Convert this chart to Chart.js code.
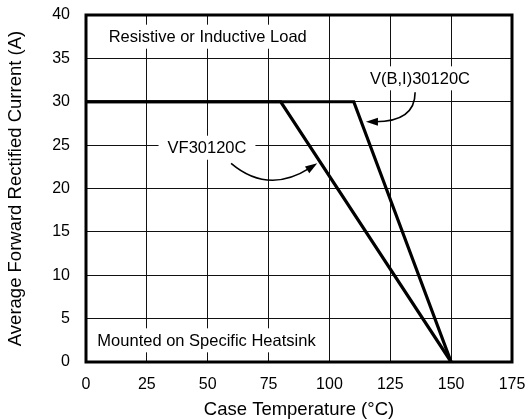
<!DOCTYPE html>
<html>
<head>
<meta charset="utf-8">
<script src="https://cdn.jsdelivr.net/npm/chart.js@4"></script>
<style>
  body { margin: 0; background: #fff; }
  #wrap { width: 527px; height: 419px; }
</style>
</head>
<body>
<div id="wrap"><canvas id="derating"></canvas></div>
<script>
// derating curves, case temperature (°C) vs current (A)
const tempVF = [0, 80, 150];
const currentVF = [30, 30, 0];
const tempVBI = [0, 110, 150];
const currentVBI = [30, 30, 0];
const seriesNames = ['VF30120C', 'V(B,I)30120C'];
const xTicks = [0, 25, 50, 75, 100, 125, 150, 175];
const yTicks = [0, 5, 10, 15, 20, 25, 30, 35, 40];
const noteTop = 'Resistive or Inductive Load';
const noteBottom = 'Mounted on Specific Heatsink';

const FONT = "'Liberation Sans', Arial, Helvetica, sans-serif";

// label boxes and arrows, placed in data units
const notes = [
  { text: noteTop, x: 50, y: 37.5 },
  { text: noteBottom, x: 49.5, y: 2.5 },
  { text: seriesNames[0], x: 49.7, y: 24.7 },
  { text: seriesNames[1], x: 137.2, y: 32.7 }
];
const arrows = [
  { from: [59.6, 22.9], ctrl: [74.8, 19.3], to: [95, 22.9] },
  { from: [135.2, 31.1], ctrl: [135.2, 27.7], to: [115, 27.7] }
];

const annotate = {
  id: 'annotate',
  beforeDatasetsDraw(chart) {
    const { ctx, scales: { x, y } } = chart;
    ctx.save();
    ctx.font = '16.5px ' + FONT;
    ctx.textAlign = 'center';
    ctx.textBaseline = 'middle';
    notes.forEach(n => {
      const px = x.getPixelForValue(n.x);
      const py = y.getPixelForValue(n.y);
      const w = ctx.measureText(n.text).width + 18;
      ctx.fillStyle = '#fff';
      ctx.fillRect(px - w / 2, py - 12, w, 24);
      ctx.fillStyle = '#000';
      ctx.fillText(n.text, px, py + 1);
    });
    ctx.restore();
  },
  afterDatasetsDraw(chart) {
    const { ctx, chartArea: a, scales: { x, y } } = chart;
    ctx.save();
    ctx.strokeStyle = '#000';
    ctx.fillStyle = '#000';
    ctx.lineWidth = 1.6;
    arrows.forEach(ar => {
      const sx = x.getPixelForValue(ar.from[0]), sy = y.getPixelForValue(ar.from[1]);
      const cx = x.getPixelForValue(ar.ctrl[0]), cy = y.getPixelForValue(ar.ctrl[1]);
      const ex = x.getPixelForValue(ar.to[0]), ey = y.getPixelForValue(ar.to[1]);
      const ang = Math.atan2(ey - cy, ex - cx);
      const bx = ex - 9 * Math.cos(ang), by = ey - 9 * Math.sin(ang);
      ctx.beginPath();
      ctx.moveTo(sx, sy);
      ctx.quadraticCurveTo(cx, cy, bx, by);
      ctx.stroke();
      ctx.beginPath();
      ctx.moveTo(ex, ey);
      ctx.lineTo(ex - 12 * Math.cos(ang) + 4 * Math.sin(ang), ey - 12 * Math.sin(ang) - 4 * Math.cos(ang));
      ctx.lineTo(ex - 12 * Math.cos(ang) - 4 * Math.sin(ang), ey - 12 * Math.sin(ang) + 4 * Math.cos(ang));
      ctx.closePath();
      ctx.fill();
    });
    // heavy frame round the plot
    ctx.lineWidth = 3;
    ctx.strokeRect(a.left, a.top, a.right - a.left, a.bottom - a.top);
    ctx.restore();
  }
};

const ctx = document.getElementById('derating').getContext('2d');

const myChart = new Chart(ctx, {
  type: 'scatter',
  data: {
    datasets: [
      {
        label: seriesNames[0],
        data: tempVF.map((t, i) => ({ x: t, y: currentVF[i] })),
        showLine: true,
        borderColor: '#000',
        borderWidth: 3.2,
        pointRadius: 0
      },
      {
        label: seriesNames[1],
        data: tempVBI.map((t, i) => ({ x: t, y: currentVBI[i] })),
        showLine: true,
        borderColor: '#000',
        borderWidth: 3.2,
        pointRadius: 0
      }
    ]
  },
  options: {
    responsive: true,
    maintainAspectRatio: false,
    animation: false,
    layout: { padding: { left: 0, top: 15, right: 15, bottom: 0 } },
    plugins: {
      legend: { display: false },
      tooltip: { enabled: false }
    },
    scales: {
      x: {
        type: 'linear',
        min: 0,
        max: 175,
        afterBuildTicks: s => { s.ticks = xTicks.map(v => ({ value: v })); },
        afterFit: s => { s.height = 57; s.paddingLeft = 0; s.paddingRight = 0; },
        grid: { color: '#111', lineWidth: 1, drawTicks: false },
        border: { display: false },
        ticks: { color: '#000', padding: 13, font: { family: FONT, size: 16 } },
        title: {
          display: true,
          text: 'Case Temperature (°C)',
          color: '#000',
          padding: 0,
          font: { family: FONT, size: 18.5, lineHeight: 1 }
        }
      },
      y: {
        type: 'linear',
        min: 0,
        max: 40,
        afterBuildTicks: s => { s.ticks = yTicks.map(v => ({ value: v })); },
        afterFit: s => { s.width = 86; s.paddingTop = 0; s.paddingBottom = 0; },
        grid: { color: '#111', lineWidth: 1, drawTicks: false },
        border: { display: false },
        ticks: { color: '#000', padding: 16, font: { family: FONT, size: 16 } },
        title: {
          display: true,
          text: 'Average Forward Rectified Current (A)',
          color: '#000',
          padding: { top: 7, bottom: 0 },
          font: { family: FONT, size: 18.5, lineHeight: 1 }
        }
      }
    }
  },
  plugins: [annotate]
});
</script>
</body>
</html>
